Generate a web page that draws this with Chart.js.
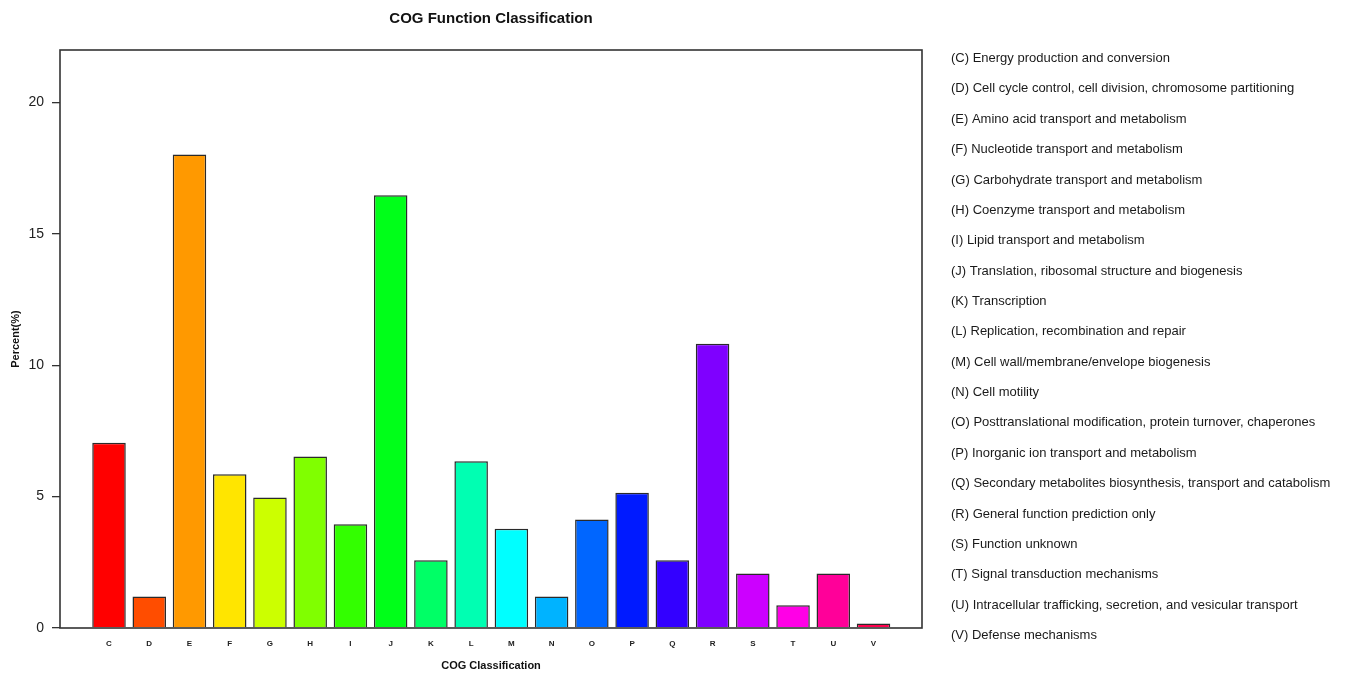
<!DOCTYPE html>
<html>
<head>
<meta charset="utf-8">
<script src="https://cdn.jsdelivr.net/npm/chart.js@4/dist/chart.umd.min.js"></script>
<style>
  html, body { margin: 0; padding: 0; background: #fff; }
  #wrap { position: relative; width: 1345px; height: 673px; }
</style>
</head>
<body>
<div id="wrap"><canvas id="c" width="1345" height="673"></canvas></div>
<script>
const categories = ['C','D','E','F','G','H','I','J','K','L','M','N','O','P','Q','R','S','T','U','V'];
const percentValues = [7.05, 1.2, 18.02, 5.85, 4.97, 6.53, 3.95, 16.47, 2.58, 6.35, 3.78, 1.2, 4.13, 5.15, 2.58, 10.82, 2.07, 0.87, 2.07, 0.17];
const descriptions = [
  '(C) Energy production and conversion',
  '(D) Cell cycle control, cell division, chromosome partitioning',
  '(E) Amino acid transport and metabolism',
  '(F) Nucleotide transport and metabolism',
  '(G) Carbohydrate transport and metabolism',
  '(H) Coenzyme transport and metabolism',
  '(I) Lipid transport and metabolism',
  '(J) Translation, ribosomal structure and biogenesis',
  '(K) Transcription',
  '(L) Replication, recombination and repair',
  '(M) Cell wall/membrane/envelope biogenesis',
  '(N) Cell motility',
  '(O) Posttranslational modification, protein turnover, chaperones',
  '(P) Inorganic ion transport and metabolism',
  '(Q) Secondary metabolites biosynthesis, transport and catabolism',
  '(R) General function prediction only',
  '(S) Function unknown',
  '(T) Signal transduction mechanisms',
  '(U) Intracellular trafficking, secretion, and vesicular transport',
  '(V) Defense mechanisms'
];
const yTicks = [0, 5, 10, 15, 20];
const barColors = ['#FF0000','#FF4D00','#FF9900','#FFE500','#CCFF00','#80FF00','#33FF00','#00FF19','#00FF66','#00FFB2','#00FFFF','#00B3FF','#0066FF','#001AFF','#3300FF','#7F00FF','#CC00FF','#FF00E6','#FF0099','#FF004D'];
const chartTitle = 'COG Function Classification';

const FONT = '"Liberation Sans", Arial, Helvetica, sans-serif';

const decorPlugin = {
  id: 'decor',
  afterDraw(chart) {
    const ctx = chart.ctx;
    const a = chart.chartArea;
    ctx.save();
    ctx.strokeStyle = '#333';
    ctx.lineWidth = 1.6;
    ctx.strokeRect(a.left, a.top, a.right - a.left, a.bottom - a.top);
    ctx.fillStyle = '#111';
    ctx.font = 'bold 15px ' + FONT;
    ctx.textAlign = 'center';
    ctx.textBaseline = 'middle';
    ctx.fillText(chartTitle, (a.left + a.right) / 2, 19);
    ctx.font = '13px ' + FONT;
    ctx.textAlign = 'left';
    ctx.fillStyle = '#1a1a1a';
    const y0 = 58.5, y1 = 635.5;
    const step = (y1 - y0) / (descriptions.length - 1);
    descriptions.forEach((d, i) => ctx.fillText(d, 951, y0 + i * step));
    ctx.restore();
  }
};

new Chart(document.getElementById('c'), {
  type: 'bar',
  data: {
    datasets: [{
      data: categories.map((c, i) => ({ x: i, y: percentValues[i] })),
      backgroundColor: barColors,
      borderColor: '#2a2a2a',
      borderWidth: 1.5,
      barPercentage: 0.833,
      categoryPercentage: 1.0
    }]
  },
  options: {
    responsive: false,
    animation: false,
    layout: { padding: { top: 50, right: 423, left: 0, bottom: 0 } },
    plugins: { legend: { display: false }, tooltip: { enabled: false }, title: { display: false } },
    scales: {
      x: {
        type: 'linear',
        min: -1.218,
        max: 20.205,
        offset: false,
        grid: { display: false, drawTicks: false },
        border: { display: false },
        afterBuildTicks(scale) { scale.ticks = categories.map((c, i) => ({ value: i })); },
        afterFit(scale) { scale.height = 45; },
        ticks: {
          autoSkip: false,
          maxRotation: 0,
          padding: 11,
          color: '#222',
          font: { family: FONT, size: 8, weight: 'bold' },
          callback: (v) => categories[v] ?? ''
        },
        title: {
          display: true,
          text: 'COG Classification',
          color: '#111',
          font: { family: FONT, size: 11, weight: 'bold' },
          padding: { top: 12, bottom: 0 }
        }
      },
      y: {
        min: 0,
        max: 22,
        afterBuildTicks(scale) { scale.ticks = yTicks.map(v => ({ value: v })); },
        afterFit(scale) { scale.width = 60; },
        grid: { drawOnChartArea: false, drawTicks: true, tickLength: 8, color: '#333', lineWidth: 1.3 },
        border: { display: false },
        ticks: {
          padding: 8,
          color: '#222',
          font: { family: FONT, size: 14 }
        },
        title: {
          display: true,
          text: 'Percent(%)',
          color: '#111',
          font: { family: FONT, size: 11, weight: 'bold' },
          padding: { top: 9, bottom: 0 }
        }
      }
    }
  },
  plugins: [decorPlugin]
});
</script>
</body>
</html>
